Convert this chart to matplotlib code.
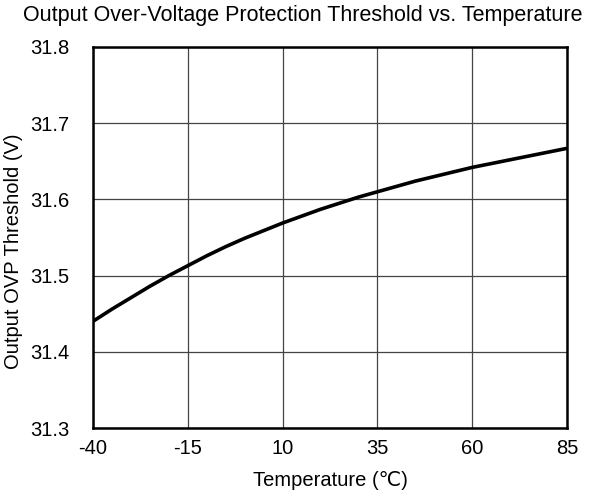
import matplotlib

matplotlib.use("Agg")

import matplotlib.pyplot as plt

# data
temperature = [-40, -35, -30, -25, -20, -15, -10, -5, 0, 5, 10, 15, 20,
               25, 30, 35, 40, 45, 50, 55, 60, 65, 70, 75, 80, 85]
ovp_threshold = [31.440, 31.456, 31.471, 31.486, 31.500, 31.513, 31.526, 31.538,
                 31.549, 31.559, 31.569, 31.578, 31.587, 31.595, 31.603, 31.610,
                 31.617, 31.624, 31.630, 31.636, 31.642, 31.647, 31.652, 31.657,
                 31.662, 31.667]
x_ticks = [-40, -15, 10, 35, 60, 85]
y_ticks = [31.3, 31.4, 31.5, 31.6, 31.7, 31.8]

plt.rcParams["font.family"] = ["Liberation Sans", "DejaVu Sans"]

fig = plt.figure(figsize=(5.91, 5.0), dpi=100)
ax = fig.add_axes([93 / 591, 72 / 500, 474 / 591, 381 / 500])

ax.plot(temperature, ovp_threshold, color="black", linewidth=2.6,
        solid_capstyle="butt", zorder=3)

ax.set_xlim(-40, 85)
ax.set_ylim(31.3, 31.8)
ax.set_xticks(x_ticks)
ax.set_yticks(y_ticks)
ax.set_xticklabels([str(t) for t in x_ticks])
ax.set_yticklabels([f"{t:.1f}" for t in y_ticks])
ax.grid(True, color="#444444", linewidth=0.9)
ax.set_axisbelow(True)

for spine in ax.spines.values():
    spine.set_linewidth(1.8)
    spine.set_color("black")

ax.tick_params(axis="x", length=0, pad=8, labelsize=14.5)
ax.tick_params(axis="y", length=0, pad=17, labelsize=14.5)

ax.set_xlabel("Temperature (℃)", fontsize=14.5, labelpad=9)
ax.set_ylabel("Output OVP Threshold (V)", fontsize=14.5, labelpad=5)
ax.yaxis.label.set_y(0.465)

fig.text(303 / 591, 1 - 16 / 500, "Output Over-Voltage Protection Threshold vs. Temperature",
         ha="center", va="center", fontsize=15.5)

fig.savefig("out.png", dpi=100, facecolor="white")
plt.close(fig)
